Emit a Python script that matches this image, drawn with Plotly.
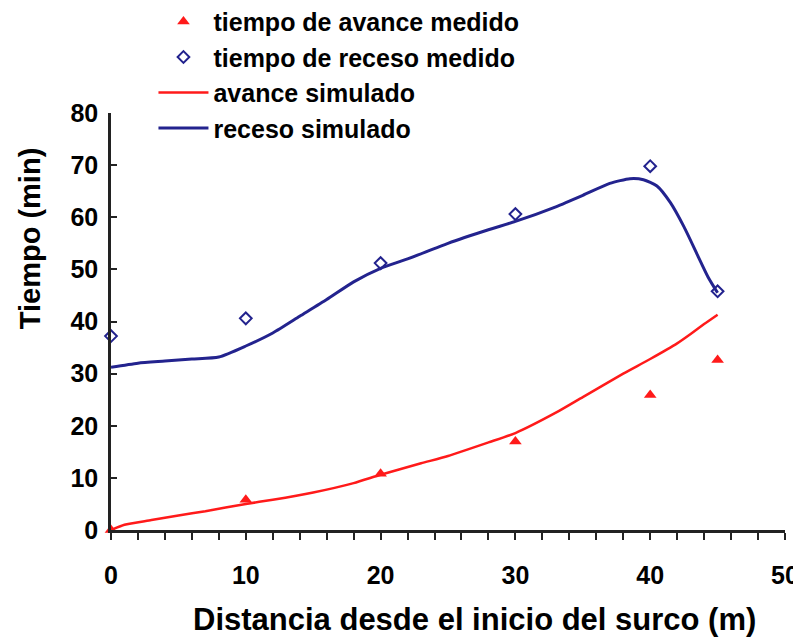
import plotly.graph_objects as go

# medidos
x_med = [0, 10, 20, 30, 40, 45]
avance_med = [0, 5.8, 10.8, 17.0, 25.9, 32.6]
receso_med = [37.2, 40.6, 51.2, 60.6, 69.8, 45.8]

# simulados
x_av_sim = [0, 1, 3, 5, 7, 10, 12, 15, 18, 20, 23, 25, 28, 30, 33, 35, 38, 40, 42, 43, 44, 45]
avance_sim = [0, 1.0, 1.9, 2.8, 3.6, 5.0, 5.8, 7.2, 9.0, 10.6, 12.8, 14.2, 16.8, 18.6, 22.5, 25.5, 30.0, 32.8, 35.8, 37.6, 39.5, 41.3]

x_re_sim = [0, 2, 4, 6, 8, 10, 12, 14, 16, 18, 20, 22, 25, 28, 30, 33, 35, 37, 38.5, 39.5, 40.5, 41.5, 42.5, 43.5, 44.3, 45]
receso_sim = [31.2, 32.0, 32.4, 32.8, 33.2, 35.3, 37.8, 41.0, 44.2, 47.6, 50.2, 52.0, 55.0, 57.6, 59.2, 62.0, 64.2, 66.5, 67.4, 67.2, 66.0, 62.8, 58.2, 52.8, 48.5, 45.5]

fuente = "Liberation Sans, Arial, sans-serif"
rojo = "#ff1a1a"
azul = "#23238e"

fig = go.Figure()
fig.add_trace(go.Scatter(x=x_med, y=avance_med, mode="markers", name="tiempo de avance medido",
                         marker=dict(symbol="triangle-up", size=11, color=rojo), cliponaxis=False))
fig.add_trace(go.Scatter(x=x_med, y=receso_med, mode="markers", name="tiempo de receso medido",
                         marker=dict(symbol="diamond-open", size=9, color=azul, line=dict(width=2)),
                         cliponaxis=False))
fig.add_trace(go.Scatter(x=x_av_sim, y=avance_sim, mode="lines", name="avance simulado",
                         line=dict(color=rojo, width=2.5, shape="spline", smoothing=0.6)))
fig.add_trace(go.Scatter(x=x_re_sim, y=receso_sim, mode="lines", name="receso simulado",
                         line=dict(color=azul, width=3, shape="spline", smoothing=0.6)))

# la página añade 8 px de margen al cuerpo, se compensa aquí
fig.update_layout(
    width=793, height=633,
    margin=dict(l=103, r=16, t=105, b=111, autoexpand=False),
    paper_bgcolor="white", plot_bgcolor="white",
    font=dict(family=fuente, size=24, color="black", weight="bold"),
    showlegend=True,
    legend=dict(x=0.063, y=1.274, xanchor="left", yanchor="top", bgcolor="rgba(0,0,0,0)",
                font=dict(family=fuente, size=25, color="black", weight="bold"),
                itemwidth=50, tracegroupgap=0),
)
fig.update_xaxes(range=[0, 50], tickvals=[0, 10, 20, 30, 40, 50], showgrid=False, zeroline=False,
                 showline=True, linecolor="#222222", linewidth=2.5, automargin=False,
                 ticks="outside", ticklen=7, tickwidth=2, tickcolor="#222222",
                 minor=dict(dtick=2, ticks="outside", ticklen=7, tickwidth=2, tickcolor="#222222"),
                 tickfont=dict(size=25, family=fuente, weight="bold"), ticklabelstandoff=14)
fig.update_yaxes(range=[0, 80], dtick=10, showgrid=False, zeroline=False,
                 showline=True, linecolor="#222222", linewidth=2.5, automargin=False,
                 ticks="inside", ticklen=6, tickwidth=2, tickcolor="#222222",
                 tickfont=dict(size=25, family=fuente, weight="bold"), ticklabelstandoff=5)

fig.add_annotation(text="Tiempo (min)", xref="paper", yref="paper", x=-0.12, y=0.7,
                   xanchor="center", yanchor="middle", textangle=-90, showarrow=False,
                   font=dict(size=29, family=fuente, weight="bold"))
fig.add_annotation(text="Distancia desde el inicio del surco (m)", xref="paper", yref="paper",
                   x=0.54, y=-0.215, xanchor="center", yanchor="middle", showarrow=False,
                   font=dict(size=31, family=fuente, weight="bold"))

fig.write_html("out.html")
